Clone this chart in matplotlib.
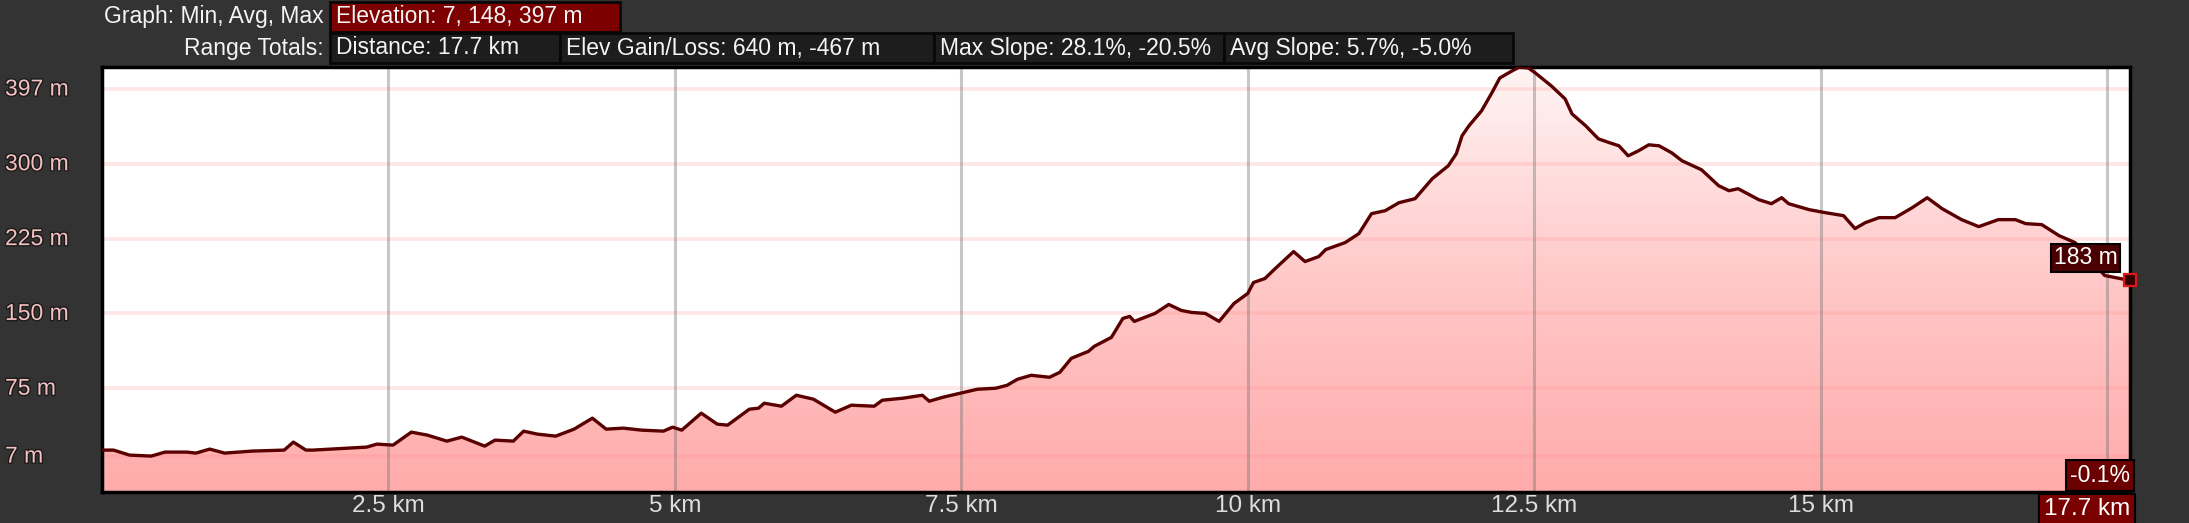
import numpy as np
import matplotlib.pyplot as plt
from matplotlib.colors import LinearSegmentedColormap
from matplotlib.patches import Rectangle
from matplotlib.transforms import blended_transform_factory
import matplotlib.patheffects as pe

plt.rcParams['font.family'] = ['Liberation Sans', 'DejaVu Sans']

# elevation profile (distance km, elevation m)
km = [0.0, 0.10, 0.24, 0.43, 0.55, 0.74, 0.82, 0.94, 1.07, 1.31, 1.59, 1.67, 1.78, 1.84,
      2.16, 2.31, 2.40, 2.54, 2.70, 2.84, 3.01, 3.14, 3.34, 3.43, 3.59, 3.68, 3.80, 3.96,
      4.12, 4.28, 4.40, 4.55, 4.71, 4.90, 4.98, 5.06, 5.23, 5.37, 5.46, 5.65, 5.73, 5.78,
      5.93, 6.06, 6.21, 6.40, 6.54, 6.74, 6.81, 6.99, 7.16, 7.22, 7.34, 7.49, 7.64, 7.80,
      7.90, 7.99, 8.11, 8.27, 8.36, 8.46, 8.61, 8.66, 8.81, 8.91, 8.97, 9.01, 9.19, 9.31,
      9.42, 9.51, 9.63, 9.75, 9.88, 10.0, 10.05, 10.15, 10.24, 10.40, 10.50, 10.62, 10.68,
      10.85, 10.97, 11.08, 11.20, 11.32, 11.46, 11.61, 11.75, 11.82, 11.87, 11.93, 12.04,
      12.13, 12.20, 12.29, 12.37, 12.45, 12.51, 12.65, 12.77, 12.83, 12.95, 13.06, 13.16,
      13.24, 13.32, 13.41, 13.50, 13.59, 13.70, 13.79, 13.96, 14.11, 14.20, 14.28, 14.46,
      14.57, 14.66, 14.72, 14.90, 15.04, 15.20, 15.30, 15.39, 15.51, 15.65, 15.80, 15.93,
      16.06, 16.23, 16.38, 16.55, 16.70, 16.79, 16.93, 17.08, 17.22, 17.48, 17.70]
elev = [13, 13, 8, 7, 11, 11, 10, 14, 10, 12, 13, 21, 13, 13,
        15, 16, 19, 18, 31, 28, 22, 26, 17, 23, 22, 32, 29, 27,
        34, 45, 34, 35, 33, 32, 36, 33, 50, 39, 38, 54, 55, 60,
        57, 68, 64, 51, 58, 57, 63, 65, 68, 62, 66, 70, 74, 75,
        78, 84, 88, 86, 91, 105, 112, 117, 126, 145, 147, 142, 150, 159,
        153, 151, 150, 142, 160, 170, 181, 185, 195, 212, 202, 207, 214,
        221, 230, 250, 253, 261, 265, 285, 298, 310, 328, 338, 353,
        371, 386, 392, 397, 396, 391, 378, 365, 350, 338, 325, 321,
        318, 308, 313, 319, 318, 311, 303, 294, 278, 273, 275, 264,
        260, 266, 260, 254, 251, 248, 235, 241, 246, 246, 256, 266,
        255, 244, 237, 244, 244, 240, 239, 228, 221, 188, 183]

ytick_vals = [7, 75, 150, 225, 300, 375]
ytick_labels = ["7 m", "75 m", "150 m", "225 m", "300 m", "397 m"]
xtick_vals = [2.5, 5, 7.5, 10, 12.5, 15, 17.5]
xtick_labels = ["2.5 km", "5 km", "7.5 km", "10 km", "12.5 km", "15 km", ""]

row1_title = "Graph: Min, Avg, Max"
row1_box = "Elevation: 7, 148, 397 m"
row2_title = "Range Totals:"
row2_boxes = ["Distance: 17.7 km", "Elev Gain/Loss: 640 m, -467 m",
              "Max Slope: 28.1%, -20.5%", "Avg Slope: 5.7%, -5.0%"]
end_slope = "-0.1%"

W, H = 2189, 523
fig = plt.figure(figsize=(W / 100, H / 100), dpi=100)

# dark background with darker strip under the plot
rows = np.linspace(0, H, 200)
shade = np.interp(rows, [0, 60, 490, 494, 523], [0.20, 0.175, 0.18, 0.09, 0.17])
bgimg = np.dstack([shade, shade, shade])[:, :1, :].repeat(2, axis=1)
bg = fig.add_axes([0, 0, 1, 1], zorder=-10)
bg.imshow(bgimg, aspect='auto', extent=[0, 1, 0, 1])
bg.set_axis_off()

ax = fig.add_axes([102 / W, 1 - 492 / H, (2130 - 102) / W, (492 - 67) / H])
ax.set_facecolor('white')
ax.set_xlim(0, 17.7)
ax.set_ylim(-29, 397)

poly = ax.fill_between(km, elev, -29, facecolor='none', edgecolor='none')
cmap = LinearSegmentedColormap.from_list('pinkfill', ['#ffabab', '#ffc8c8', '#fff4f4'])
grad = np.linspace(0, 1, 256).reshape(-1, 1)
im = ax.imshow(grad, cmap=cmap, aspect='auto', origin='lower',
               extent=[0, 17.7, -29, 397], zorder=1)
im.set_clip_path(poly.get_paths()[0], ax.transData)

ax.plot(km, elev, color='#5a0000', lw=2.4, zorder=3, solid_joinstyle='round')
ax.plot(km[-1], elev[-1], marker='s', ms=8, mfc='#300000', mec='#e01818', mew=1.6,
        clip_on=False, zorder=4)

ax.set_axisbelow(False)
for v in ytick_vals:
    ax.axhline(v, color=(1, 0.55, 0.55, 0.22), lw=2.6, zorder=2)
for v in xtick_vals:
    ax.axvline(v, color=(0.45, 0.45, 0.45, 0.4), lw=2.2, zorder=2)

ax.set_xticks(xtick_vals)
ax.set_xticklabels(xtick_labels, color='#dddddd', fontsize=17.5)
ax.set_yticks([])
ax.tick_params(axis='x', length=0, pad=2)
for s in ax.spines.values():
    s.set_color('black')
    s.set_linewidth(2.5)

# left labels
trans = blended_transform_factory(fig.transFigure, ax.transData)
for v, lab in zip(ytick_vals, ytick_labels):
    ax.text(5 / W, v, lab, transform=trans, ha='left', va='center', fontsize=16.5,
            color='#f4c0c0', clip_on=False,
            path_effects=[pe.withStroke(linewidth=2, foreground='#1a1a1a')])

# end labels
ax.annotate(f"{elev[-1]:.0f} m", xy=(km[-1], elev[-1]), xytext=(-9, 8),
            textcoords='offset points', ha='right', va='bottom', fontsize=16.5,
            color='white', zorder=5, annotation_clip=False,
            bbox=dict(boxstyle='square,pad=0.12', fc='#4a0000', ec='black', lw=1.5))
ax.text(1.0, 0.012, end_slope, transform=ax.transAxes, ha='right', va='bottom',
        fontsize=16.5, color='white', zorder=5,
        bbox=dict(boxstyle='square,pad=0.18', fc='#6a0000', ec='black', lw=1.5))
tb = blended_transform_factory(ax.transData, ax.transAxes)
ax.text(km[-1], -0.015, f"{km[-1]} km", transform=tb, ha='right', va='top',
        fontsize=17.5, color='white', clip_on=False,
        bbox=dict(boxstyle='square,pad=0.2', fc='#7a0000', ec='black', lw=1.5))

# header boxes
def box(x0, x1, y0, y1, fc):
    fig.add_artist(Rectangle((x0 / W, 1 - y1 / H), (x1 - x0) / W, (y1 - y0) / H,
                             transform=fig.transFigure, fc=fc, ec='#080808', lw=2))

def htext(x, y, s, ha='left'):
    fig.text(x / W, 1 - y / H, s, ha=ha, va='center', fontsize=16.5, color='#f4f4f4')

htext(324, 17, row1_title, ha='right')
box(330, 620, 2, 32, '#7d0000')
htext(336, 17, row1_box)

htext(324, 48, row2_title, ha='right')
edges = [330, 560, 934, 1224, 1513]
for i, s in enumerate(row2_boxes):
    box(edges[i], edges[i + 1], 33, 63, '#1d1d1d')
    htext(edges[i] + 6, 48, s)

plt.savefig("out.png", dpi=100)
plt.close()
